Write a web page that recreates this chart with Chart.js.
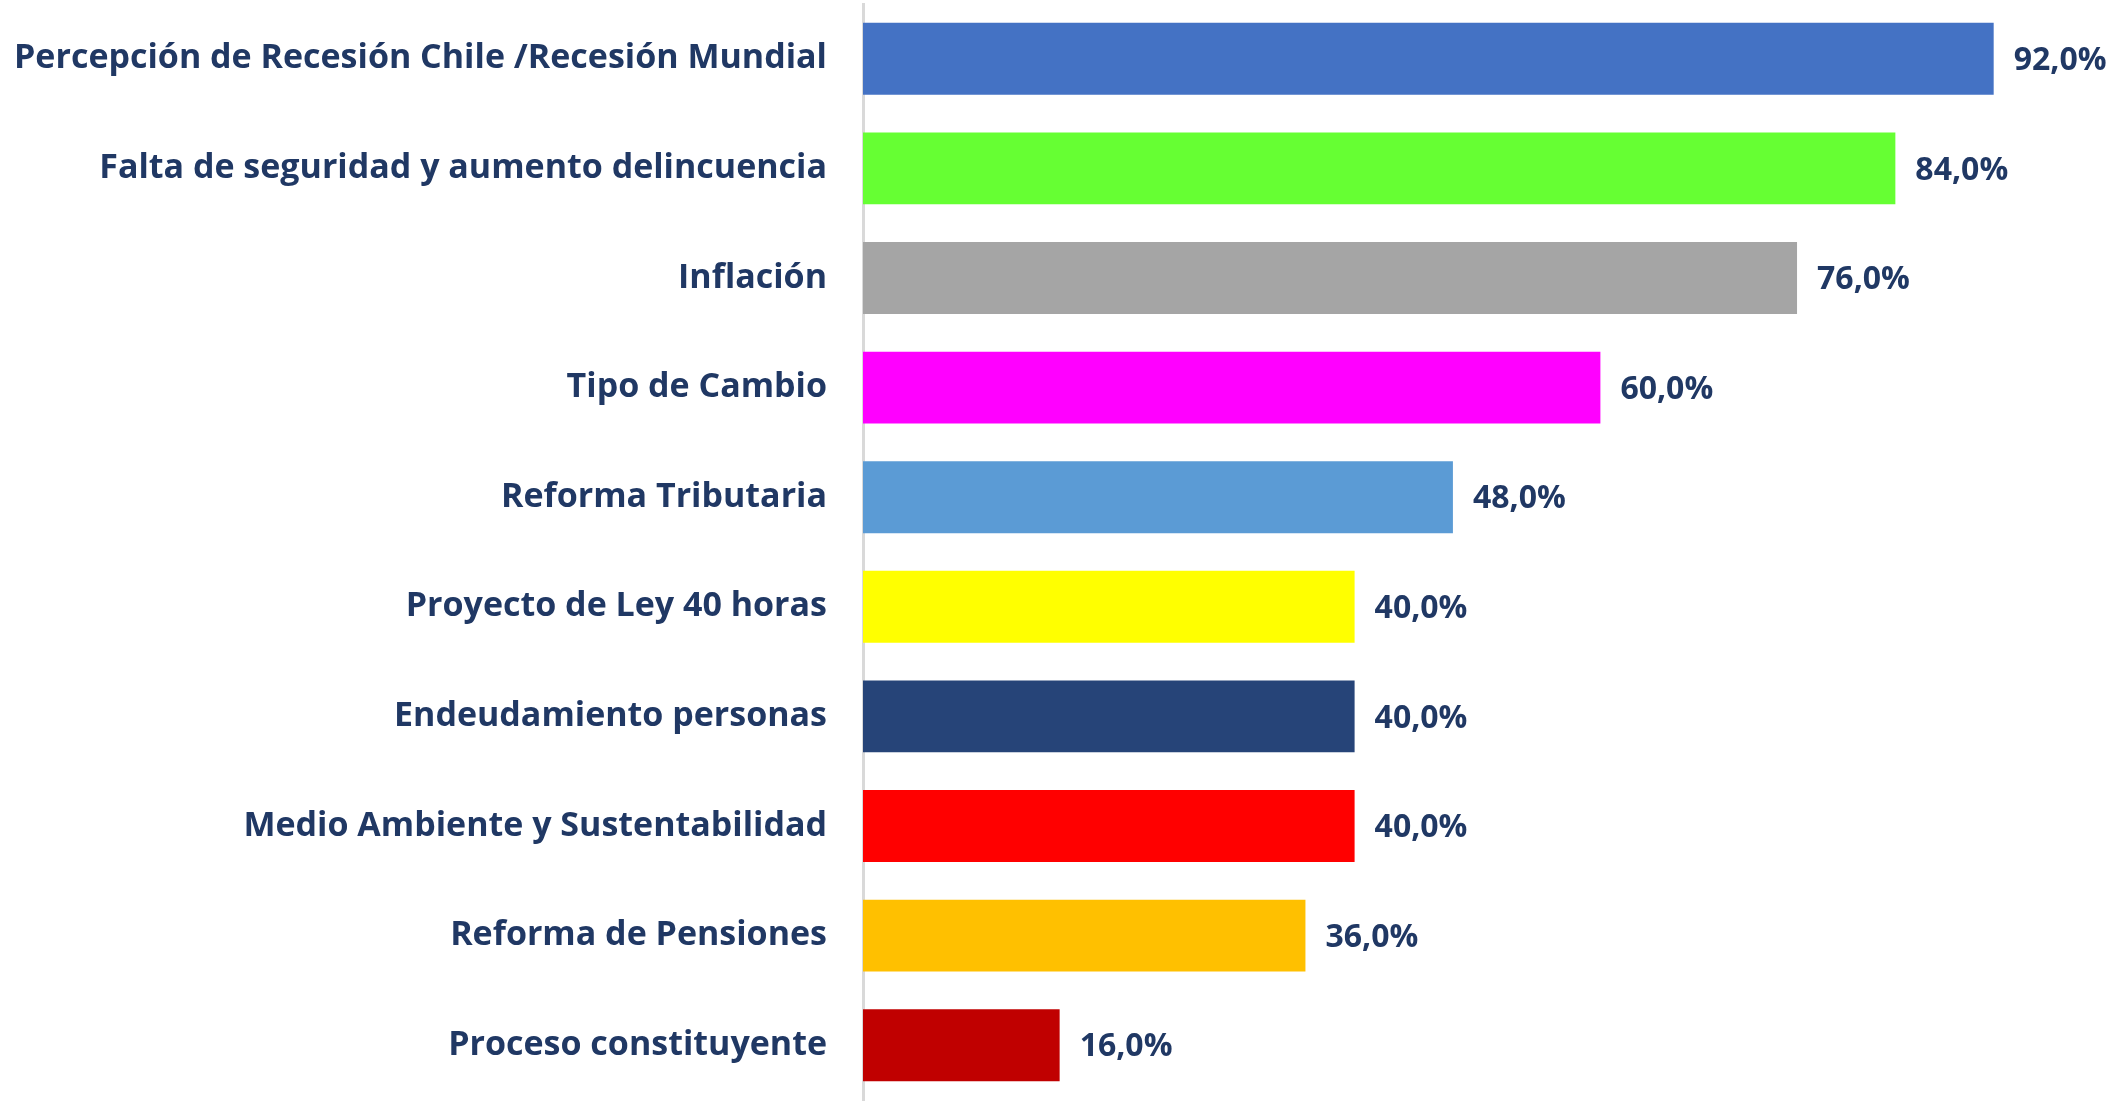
<!DOCTYPE html>
<html>
<head>
<meta charset="utf-8">
<script src="https://cdn.jsdelivr.net/npm/chart.js@4.4.0/dist/chart.umd.min.js"></script>
<style>
  body { margin: 0; background: #fff; }
  #wrap { width: 2125px; height: 1103px; }
</style>
</head>
<body>
<div id="wrap"><canvas id="barChart"></canvas></div>
<script>
// data
const categories = [
    'Percepción de Recesión Chile /Recesión Mundial',
    'Falta de seguridad y aumento delincuencia',
    'Inflación',
    'Tipo de Cambio',
    'Reforma Tributaria',
    'Proyecto de Ley 40 horas',
    'Endeudamiento personas',
    'Medio Ambiente y Sustentabilidad',
    'Reforma de Pensiones',
    'Proceso constituyente'
];
const values = [92, 84, 76, 60, 48, 40, 40, 40, 36, 16];
const barColors = ['#4472C4', '#66FF33', '#A5A5A5', '#FF00FF', '#5B9BD5',
                   '#FFFF00', '#264478', '#FF0000', '#FFC000', '#C00000'];

const textColor = '#203864';
const fontFamily = "'Open Sans', sans-serif";

// value labels at the end of each bar
const valueLabels = {
    id: 'valueLabels',
    afterDatasetsDraw(chart) {
        const ctx = chart.ctx;
        const meta = chart.getDatasetMeta(0);
        ctx.save();
        ctx.fillStyle = textColor;
        ctx.font = 'bold 32px ' + fontFamily;
        ctx.textAlign = 'left';
        ctx.textBaseline = 'middle';
        meta.data.forEach((bar, i) => {
            const txt = values[i].toFixed(1).replace('.', ',') + '%';
            ctx.fillText(txt, bar.x + 20, bar.y + 2);
        });
        ctx.restore();
    }
};

const barCtx = document.getElementById('barChart').getContext('2d');
new Chart(barCtx, {
    type: 'bar',
    data: {
        labels: categories,
        datasets: [{
            data: values,
            backgroundColor: barColors,
            borderWidth: 0,
            barPercentage: 0.82,
            categoryPercentage: 0.8
        }]
    },
    options: {
        indexAxis: 'y',
        responsive: true,
        maintainAspectRatio: false,
        animation: false,
        layout: {
            padding: { top: 4, bottom: 3, right: 33, left: 0 }
        },
        plugins: {
            legend: { display: false },
            tooltip: { enabled: false }
        },
        scales: {
            x: {
                display: false,
                min: 0,
                max: 100
            },
            y: {
                grid: { display: false },
                border: { display: true, color: '#D9D9D9', width: 3 },
                ticks: {
                    color: textColor,
                    padding: 28,
                    font: { family: fontFamily, size: 34, weight: 'bold' }
                },
                afterFit(scale) {
                    scale.width = 863;
                    // no extra top/bottom room for the tick labels
                    scale.paddingTop = 0;
                    scale.paddingBottom = 0;
                }
            }
        }
    },
    plugins: [valueLabels]
});
</script>
</body>
</html>
